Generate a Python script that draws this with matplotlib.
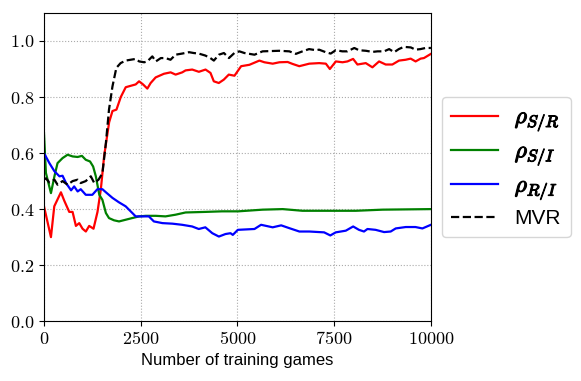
import matplotlib
matplotlib.use("Agg")
import matplotlib.pyplot as plt
import matplotlib.patheffects as pe
from matplotlib.ticker import FuncFormatter, MultipleLocator

plt.rcParams['mathtext.fontset'] = 'cm'
plt.rcParams['font.family'] = ['Liberation Sans', 'DejaVu Sans']

# rho S/R
sr_x = [0, 180, 266, 438, 524, 653, 739, 825, 911, 996, 1082, 1168, 1280, 1383, 1469,
        1555, 1684, 1770, 1873, 1985, 2113, 2242, 2371, 2457, 2560, 2671, 2757, 2886,
        3101, 3273, 3402, 3573, 3659, 3831, 4003, 4175, 4303, 4389, 4518, 4647, 4776,
        4923, 5095, 5309, 5567, 5696, 5911, 6083, 6297, 6426, 6598, 6856, 7113, 7285,
        7388, 7543, 7715, 7843, 7989, 8101, 8316, 8488, 8660, 8831, 9003, 9175, 9347,
        9476, 9604, 9733, 9819, 10000]
sr_y = [0.41, 0.30, 0.41, 0.46, 0.43, 0.39, 0.39, 0.34, 0.35, 0.33, 0.32, 0.34, 0.33,
        0.39, 0.47, 0.59, 0.71, 0.75, 0.755, 0.80, 0.835, 0.84, 0.845, 0.856, 0.845,
        0.83, 0.85, 0.87, 0.883, 0.888, 0.88, 0.888, 0.895, 0.898, 0.89, 0.898, 0.886,
        0.856, 0.85, 0.862, 0.88, 0.876, 0.91, 0.915, 0.93, 0.924, 0.919, 0.924, 0.925,
        0.918, 0.91, 0.919, 0.921, 0.919, 0.90, 0.927, 0.924, 0.927, 0.936, 0.916,
        0.921, 0.906, 0.927, 0.916, 0.916, 0.93, 0.933, 0.937, 0.927, 0.937, 0.939, 0.954]

# rho S/I
si_x = [0, 50, 180, 270, 350, 480, 610, 740, 870, 980, 1080, 1190, 1270, 1340, 1430,
        1510, 1600, 1680, 1810, 1940, 2110, 2280, 2460, 2630, 2890, 3140, 3400, 3660,
        3920, 4170, 4600, 5020, 5650, 6170, 6680, 7370, 8060, 8750, 10000]
si_y = [0.671, 0.529, 0.457, 0.517, 0.564, 0.582, 0.594, 0.588, 0.586, 0.59, 0.576,
        0.57, 0.552, 0.517, 0.451, 0.433, 0.386, 0.368, 0.36, 0.356, 0.362, 0.368,
        0.374, 0.376, 0.376, 0.374, 0.38, 0.388, 0.389, 0.39, 0.392, 0.392, 0.398,
        0.40, 0.394, 0.394, 0.394, 0.398, 0.40]

# rho R/I
ri_x = [0, 140, 270, 400, 480, 570, 700, 780, 870, 950, 1080, 1250, 1380, 1510, 1600,
        1770, 1940, 2110, 2240, 2370, 2540, 2710, 2840, 3060, 3320, 3570, 3830, 4000,
        4170, 4350, 4520, 4690, 4820, 4880, 5010, 5440, 5610, 5910, 6130, 6340, 6600,
        6860, 7110, 7240, 7400, 7540, 7800, 7990, 8140, 8270, 8360, 8570, 8790, 8960,
        9090, 9350, 9600, 9780, 10000]
ri_y = [0.60, 0.564, 0.535, 0.517, 0.519, 0.493, 0.467, 0.481, 0.463, 0.471, 0.451,
        0.451, 0.471, 0.471, 0.46, 0.44, 0.424, 0.41, 0.392, 0.374, 0.374, 0.374, 0.356,
        0.35, 0.348, 0.344, 0.338, 0.329, 0.335, 0.314, 0.302, 0.311, 0.314, 0.308,
        0.326, 0.329, 0.344, 0.335, 0.342, 0.332, 0.32, 0.32, 0.318, 0.317, 0.306,
        0.317, 0.323, 0.338, 0.326, 0.32, 0.329, 0.326, 0.318, 0.32, 0.331, 0.336,
        0.336, 0.331, 0.344]

# MVR
mvr_x = [0, 50, 140, 270, 350, 480, 610, 740, 870, 950, 1080, 1210, 1300, 1410, 1510,
         1600, 1680, 1770, 1870, 1980, 2110, 2240, 2370, 2460, 2590, 2670, 2800, 2890,
         3020, 3140, 3270, 3400, 3570, 3750, 3870, 4000, 4170, 4300, 4390, 4520, 4650,
         4780, 4920, 5050, 5180, 5440, 5650, 6080, 6340, 6510, 6680, 6850, 7030, 7110,
         7280, 7410, 7540, 7710, 7840, 8020, 8140, 8320, 8490, 8620, 8790, 8920, 9050,
         9170, 9300, 9480, 9600, 9730, 9860, 10000]
mvr_y = [0.505, 0.51, 0.495, 0.505, 0.487, 0.50, 0.487, 0.50, 0.505, 0.493, 0.50,
         0.517, 0.493, 0.505, 0.528, 0.636, 0.755, 0.838, 0.904, 0.921, 0.93, 0.933,
         0.936, 0.927, 0.924, 0.927, 0.945, 0.927, 0.939, 0.939, 0.933, 0.951, 0.955,
         0.96, 0.957, 0.955, 0.948, 0.939, 0.93, 0.951, 0.957, 0.939, 0.957, 0.963,
         0.957, 0.951, 0.963, 0.965, 0.963, 0.954, 0.963, 0.971, 0.967, 0.969, 0.96,
         0.955, 0.967, 0.963, 0.963, 0.975, 0.967, 0.965, 0.961, 0.963, 0.963, 0.971,
         0.96, 0.971, 0.979, 0.977, 0.969, 0.971, 0.975, 0.975]

fig = plt.figure(figsize=(5.81, 3.81), dpi=100)
ax = fig.add_axes([0.0757, 0.157, 0.666, 0.809])

ax.plot(sr_x, sr_y, color='red', lw=1.6, label=r'$\rho_{S/R}$')
ax.plot(si_x, si_y, color='green', lw=1.6, label=r'$\rho_{S/I}$')
ax.plot(ri_x, ri_y, color='blue', lw=1.6, label=r'$\rho_{R/I}$')
ax.plot(mvr_x, mvr_y, color='black', lw=1.6, ls='--', label='MVR')

ax.set_xlim(0, 10000)
ax.set_ylim(0, 1.1)
ax.xaxis.set_major_locator(MultipleLocator(2500))
ax.yaxis.set_major_locator(MultipleLocator(0.2))
ax.xaxis.set_major_formatter(FuncFormatter(lambda v, p: r'$%d$' % v))
ax.yaxis.set_major_formatter(FuncFormatter(lambda v, p: r'$%.1f$' % v))
ax.tick_params(labelsize=13)
ax.grid(True, ls=':', color='#aaaaaa', lw=0.8)
ax.set_xlabel('Number of training games', fontsize=12, labelpad=4)

leg = ax.legend(loc='center left', bbox_to_anchor=(1.028, 0.5), fontsize=15,
                handlelength=2.25, labelspacing=0.35, borderpad=0.45,
                borderaxespad=0)
# fake bold for the greek labels
for t in leg.get_texts()[:3]:
    t.set_fontsize(17)
    t.set_path_effects([pe.withStroke(linewidth=0.8, foreground='black')])

fig.savefig('out.png', dpi=100)
